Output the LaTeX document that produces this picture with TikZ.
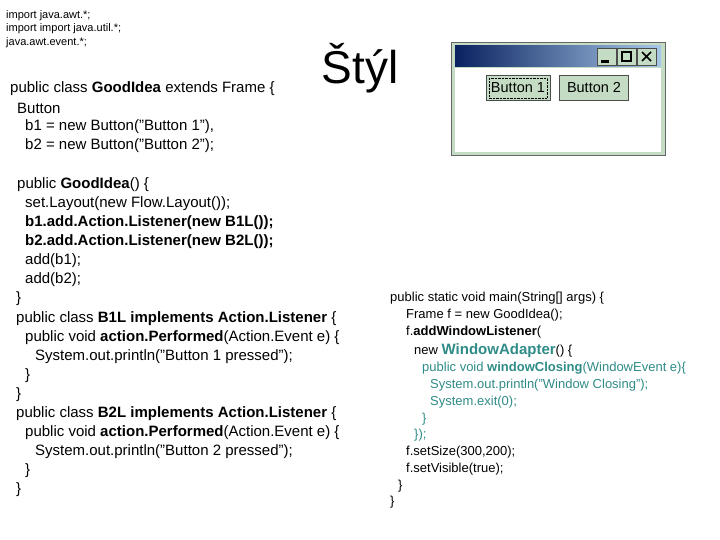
\documentclass[tikz,border=0pt]{standalone}
\usepackage{fontspec}
\setmainfont{Liberation Sans}
\definecolor{teal2}{HTML}{2E8B87}
\definecolor{wgreen}{HTML}{C4DCC4}
\definecolor{navy}{HTML}{0A2260}
\definecolor{lblue}{HTML}{A8C8E8}
\begin{document}
\begin{tikzpicture}[x=1pt,y=-1pt,
  big/.style={anchor=west,inner sep=0,yshift=-2pt,font=\fontsize{15}{15}\selectfont},
  sml/.style={anchor=west,inner sep=0,yshift=-1pt,font=\fontsize{11}{11}\selectfont},
  rc/.style={anchor=west,inner sep=0,yshift=-1.5pt,font=\fontsize{13}{13}\selectfont},
  btn/.style={draw=black!70,fill=wgreen,minimum width=64pt,minimum height=25pt,inner sep=0,font=\fontsize{14.5}{14.5}\selectfont}]
\useasboundingbox (0,0) rectangle (720,540);
% imports
\node[sml] (i1) at (6,15) {import java.awt.*;};
\node[sml] (i2) at (6,28) {import import java.util.*;};
\node[sml] (i3) at (6,42) {java.awt.event.*;};
\node[big] (l1) at (10,87) {public class \textbf{GoodIdea} extends Frame \{};
\node[big] (l2) at (17,106) {Button};
\node[big] (l3) at (25,125) {b1 = new Button("Button 1"),};
\node[big] (l4) at (25,144) {b2 = new Button("Button 2");};
\node[big] (l5) at (17,183) {public \textbf{GoodIdea}() \{};
\node[big] (l6) at (25,202) {set.Layout(new Flow.Layout());};
\node[big] (l7) at (25,221) {\textbf{b1.add.Action.Listener(new B1L());}};
\node[big] (l8) at (25,240) {\textbf{b2.add.Action.Listener(new B2L());}};
\node[big] (l9) at (25,259) {add(b1);};
\node[big] (l10) at (25,278) {add(b2);};
\node[big] (l11) at (16,297) {\}};
\node[big] (l12) at (16,317) {public class \textbf{B1L implements Action.Listener} \{};
\node[big] (l13) at (25,336) {public void \textbf{action.Performed}(Action.Event e) \{};
\node[big] (l14) at (35,355) {System.out.println("Button 1 pressed");};
\node[big] (l15) at (25,374) {\}};
\node[big] (l16) at (16,393) {\}};
\node[big] (l17) at (16,412) {public class \textbf{B2L implements Action.Listener} \{};
\node[big] (l18) at (25,431) {public void \textbf{action.Performed}(Action.Event e) \{};
\node[big] (l19) at (35,450) {System.out.println("Button 2 pressed");};
\node[big] (l20) at (25,469) {\}};
\node[big] (l21) at (16,488) {\}};
% title
\node[inner sep=0,font=\fontsize{46}{46}\selectfont] (t) at (360,68) {Štýl};
% window
\draw[draw=black!60,fill=wgreen,line width=1pt] (451,43) rectangle (665,156);
\fill[white] (455,68) rectangle (661,152);
\shade[left color=navy,right color=lblue] (455,46) rectangle (661,67);
\foreach \xx in {597,617,637}{\draw[fill=wgreen,draw=black!70] (\xx,48) rectangle ++(19,17);}
\fill (601,60) rectangle (609,63);
\draw[line width=1.5pt] (622,52) rectangle (631,61);
\draw[line width=1.5pt] (642,52) -- (651,61) (642,61) -- (651,52);
\node[btn] (b1) at (518,88) {Button 1};
\draw[densely dotted] (489,78) rectangle (547,98);
\node[btn,minimum width=69pt] (b2) at (594,88) {Button 2};
% right code
\node[rc] (r1) at (390,297) {public static void main(String[] args) \{};
\node[rc] (r2) at (406,314) {Frame f = new GoodIdea();};
\node[rc] (r3) at (406,331) {f.\textbf{addWindowListener}(};
\node[rc] (r4) at (414,349) {new {\color{teal2}\fontsize{15}{15}\selectfont\textbf{WindowAdapter}}() \{};
\node[rc,text=teal2] (r5) at (422,367) {public void \textbf{windowClosing}(WindowEvent e)\{};
\node[rc,text=teal2] (r6) at (430,384) {System.out.println("Window Closing");};
\node[rc,text=teal2] (r7) at (430,401) {System.exit(0);};
\node[rc,text=teal2] (r8) at (422,418) {\}};
\node[rc,text=teal2] (r9) at (414,434) {\});};
\node[rc] (r10) at (406,451) {f.setSize(300,200);};
\node[rc] (r11) at (406,468) {f.setVisible(true);};
\node[rc] (r12) at (398,485) {\}};
\node[rc] (r13) at (390,501) {\}};
\end{tikzpicture}
\end{document}
